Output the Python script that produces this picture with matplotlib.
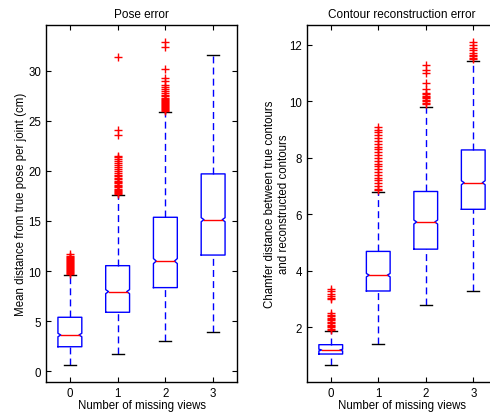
import numpy as np
import matplotlib
matplotlib.use('Agg')
import matplotlib.pyplot as plt

plt.rcParams['font.family'] = ['Liberation Sans', 'DejaVu Sans']
plt.rcParams['font.size'] = 8.3

# number of missing views
views = [0, 1, 2, 3]

# pose error (cm), per box: lower whisker, q1, median, q3, upper whisker
pose_whislo = [0.63, 1.70, 3.02, 3.95]
pose_q1 = [2.45, 5.89, 8.35, 11.6]
pose_med = [3.62, 7.95, 11.0, 15.13]
pose_q3 = [5.39, 10.54, 15.37, 19.7]
pose_whishi = [9.61, 17.6, 25.85, 31.6]
pose_notch = [0.17, 0.2, 0.25, 0.2]
pose_fliers = [
    [9.7, 9.8, 9.9, 10.0, 10.1, 10.2, 10.3, 10.4, 10.5, 10.6, 10.7, 10.8,
     10.9, 11.0, 11.1, 11.2, 11.3, 11.4, 11.5, 11.7],
    [17.7, 17.8, 17.9, 18.0, 18.1, 18.2, 18.4, 18.5, 18.6, 18.8, 18.9, 19.0,
     19.2, 19.3, 19.5, 19.6, 19.8, 20.0, 20.2, 20.4, 20.6, 20.8, 21.0, 21.2,
     21.4, 21.5, 23.6, 24.1, 31.4],
    [26.0, 26.1, 26.2, 26.3, 26.4, 26.5, 26.6, 26.7, 26.8, 26.9, 27.0, 27.1,
     27.2, 27.3, 27.5, 27.6, 27.8, 28.0, 28.2, 28.4, 28.6, 29.0, 29.3, 30.2,
     32.4, 32.9],
    [],
]

# contour reconstruction error (chamfer distance)
cont_whislo = [0.67, 1.40, 2.80, 3.29]
cont_q1 = [1.06, 3.29, 4.77, 6.18]
cont_med = [1.20, 3.85, 5.73, 7.12]
cont_q3 = [1.39, 4.69, 6.81, 8.28]
cont_whishi = [1.87, 6.79, 9.81, 11.43]
cont_notch = [0.03, 0.06, 0.07, 0.07]
cont_fliers = [
    [1.9, 1.95, 2.0, 2.05, 2.1, 2.15, 2.2, 2.25, 2.3, 2.35, 2.4, 2.45, 2.5,
     3.0, 3.05, 3.1, 3.2, 3.3, 3.35],
    [6.85, 6.9, 7.0, 7.1, 7.2, 7.3, 7.4, 7.5, 7.6, 7.7, 7.8, 7.9, 8.0, 8.1,
     8.2, 8.3, 8.4, 8.5, 8.6, 8.7, 8.8, 8.9, 9.0, 9.1],
    [9.9, 9.95, 10.0, 10.05, 10.1, 10.15, 10.2, 10.25, 10.3, 10.45, 10.65,
     11.0, 11.1, 11.3],
    [11.5, 11.55, 11.6, 11.65, 11.7, 11.8, 11.9, 12.0, 12.1],
]


def matlab_box(ax, pos, lo, q1, med, q3, hi, notch, fliers, w=0.5, ind=0.06):
    # notched box drawn like matlab's boxplot
    h = w / 2
    xs = [pos - h, pos - h, pos - h + ind, pos - h, pos - h,
          pos + h, pos + h, pos + h - ind, pos + h, pos + h, pos - h]
    ys = [q1, med - notch, med, med + notch, q3,
          q3, med + notch, med, med - notch, q1, q1]
    ax.plot(xs, ys, color='b', lw=1.0)
    ax.plot([pos - h + ind, pos + h - ind], [med, med], color='r', lw=1.0)
    ax.plot([pos, pos], [q3, hi], color='b', lw=1.0, ls=(0, (5, 3)))
    ax.plot([pos, pos], [lo, q1], color='b', lw=1.0, ls=(0, (5, 3)))
    ax.plot([pos - 0.125, pos + 0.125], [hi, hi], color='k', lw=1.0)
    ax.plot([pos - 0.125, pos + 0.125], [lo, lo], color='k', lw=1.0)
    if fliers:
        ax.plot([pos] * len(fliers), fliers, '+', color='r', ms=5.5, mew=1.0)


fig = plt.figure(figsize=(4.9, 4.14), dpi=100)
a1 = fig.add_axes([46 / 490, 31 / 414, 191 / 490, 357 / 414])
a2 = fig.add_axes([307 / 490, 31 / 414, 190 / 490, 357 / 414])

for i, v in enumerate(views):
    matlab_box(a1, v, pose_whislo[i], pose_q1[i], pose_med[i], pose_q3[i],
               pose_whishi[i], pose_notch[i], pose_fliers[i])
    matlab_box(a2, v, cont_whislo[i], cont_q1[i], cont_med[i], cont_q3[i],
               cont_whishi[i], cont_notch[i], cont_fliers[i])

a1.set_xlim(-0.5, 3.5)
a1.set_ylim(-1.07, 34.56)
a1.set_yticks([0, 5, 10, 15, 20, 25, 30])
a1.set_title('Pose error', fontsize=8.5)
a1.set_ylabel('Mean distance from true pose per joint (cm)', labelpad=1)

a2.set_xlim(-0.5, 3.5)
a2.set_ylim(0.07, 12.7)
a2.set_yticks([2, 4, 6, 8, 10, 12])
a2.set_title('Contour reconstruction error', fontsize=8.5)
a2.set_ylabel('Chamfer distance between true contours\nand reconstructed contours',
              labelpad=-0.5)

for a in (a1, a2):
    a.set_xticks(views)
    a.set_xlabel('Number of missing views', labelpad=0)
    a.tick_params(direction='in', top=True, right=True, length=3.5, width=0.8)
    for s in a.spines.values():
        s.set_linewidth(1.0)

fig.savefig('out.png', dpi=100)
